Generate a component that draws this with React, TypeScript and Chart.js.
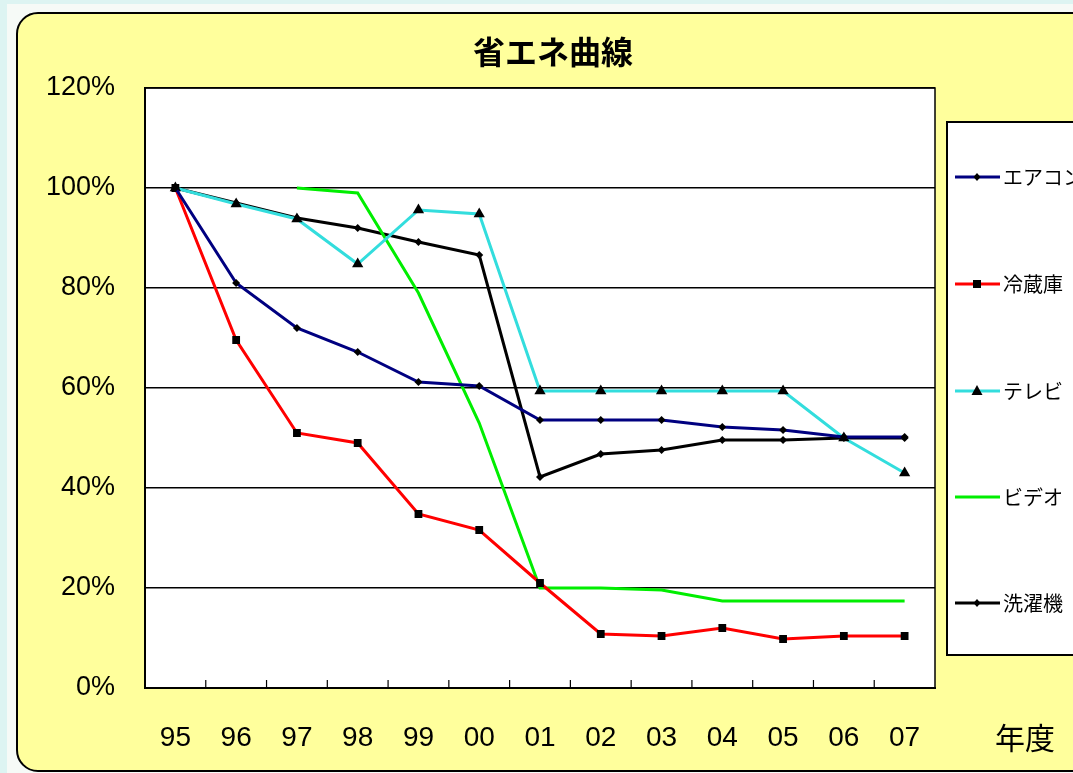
import React, { useEffect, useRef } from "react";
import { Chart, registerables } from "chart.js";

Chart.register(...registerables);

const years = ["95", "96", "97", "98", "99", "00", "01", "02", "03", "04", "05", "06", "07"];
const aircon = [100, 81, 72, 67.2, 61.2, 60.4, 53.6, 53.6, 53.6, 52.2, 51.6, 50.2, 50.2];
const fridge = [100, 69.6, 51, 49, 34.8, 31.6, 21, 10.8, 10.4, 12, 9.8, 10.4, 10.4];
const tv = [100, 96.8, 93.8, 84.8, 95.6, 94.8, 59.4, 59.4, 59.4, 59.4, 59.4, 50, 43];
const video = [null, null, 100, 99, 79, 53, 20, 20, 19.6, 17.4, 17.4, 17.4, 17.4];
const washer = [100, 97, 94, 92, 89.2, 86.6, 42.2, 46.8, 47.6, 49.6, 49.6, 50, 50];
const seriesNames = ["エアコン", "冷蔵庫", "テレビ", "ビデオ", "洗濯機"];
const seriesColors = ["#000080", "#FF0000", "#33DDDD", "#00EE00", "#000000"];
const markerStyles = ["rectRot", "rect", "triangle", "none", "rectRot"];
const chartTitle = "省エネ曲線";
const xAxisTitle = "年度";

const JP = '"Noto Sans CJK JP", sans-serif';
const NUM = '"Liberation Sans", Arial, sans-serif';

function drawMarker(ctx: CanvasRenderingContext2D, style: string, x: number, y: number) {
  ctx.save();
  ctx.fillStyle = "#000";
  ctx.beginPath();
  if (style === "rect") {
    ctx.rect(x - 4, y - 4, 8, 8);
  } else if (style === "triangle") {
    ctx.moveTo(x, y - 6);
    ctx.lineTo(x + 5.5, y + 4);
    ctx.lineTo(x - 5.5, y + 4);
    ctx.closePath();
  } else if (style === "rectRot") {
    ctx.moveTo(x, y - 4);
    ctx.lineTo(x + 3.5, y);
    ctx.lineTo(x, y + 4);
    ctx.lineTo(x - 3.5, y);
    ctx.closePath();
  } else {
    ctx.restore();
    return;
  }
  ctx.fill();
  ctx.restore();
}

const decorPlugin = {
  id: "decor",
  beforeDraw(chart: any) {
    const ctx: CanvasRenderingContext2D = chart.ctx;
    const a = chart.chartArea;
    ctx.save();
    ctx.fillStyle = "#FFFFFF";
    ctx.fillRect(a.left, a.top, a.right - a.left, a.bottom - a.top);
    ctx.restore();
  },
  afterDraw(chart: any) {
    const ctx: CanvasRenderingContext2D = chart.ctx;
    const a = chart.chartArea;
    ctx.save();
    // plot border (top/right)
    ctx.strokeStyle = "#000";
    ctx.lineWidth = 1.5;
    ctx.strokeRect(a.left, a.top, a.right - a.left, a.bottom - a.top);
    // inward x tick marks at category boundaries
    const xs = chart.scales.x;
    const step = (a.right - a.left) / years.length;
    ctx.lineWidth = 1.2;
    for (let i = 1; i < years.length; i++) {
      const px = xs.getPixelForValue(i) - step / 2;
      ctx.beginPath();
      ctx.moveTo(px, a.bottom);
      ctx.lineTo(px, a.bottom - 8);
      ctx.stroke();
    }
    // title
    ctx.fillStyle = "#000";
    ctx.font = `bold 32px ${JP}`;
    ctx.textAlign = "center";
    ctx.textBaseline = "middle";
    ctx.fillText(chartTitle, 553, 52);
    // x axis title
    ctx.font = `30px ${JP}`;
    ctx.fillText(xAxisTitle, 1025, 738);
    // legend box
    ctx.fillStyle = "#fff";
    ctx.fillRect(947, 122, 160, 533);
    ctx.strokeStyle = "#000";
    ctx.lineWidth = 2;
    ctx.strokeRect(947, 122, 160, 533);
    const ys = [177, 284, 391, 497, 603];
    ctx.font = `20px ${JP}`;
    ctx.textAlign = "left";
    ctx.textBaseline = "middle";
    for (let i = 0; i < seriesNames.length; i++) {
      const y = ys[i];
      ctx.strokeStyle = seriesColors[i];
      ctx.lineWidth = 3;
      ctx.beginPath();
      ctx.moveTo(955, y);
      ctx.lineTo(1000, y);
      ctx.stroke();
      drawMarker(ctx, markerStyles[i], 977, y);
      ctx.fillStyle = "#000";
      ctx.fillText(seriesNames[i], 1003, y);
    }
    ctx.restore();
  },
};

export default function App() {
  const ref = useRef<HTMLCanvasElement | null>(null);
  useEffect(() => {
    if (!ref.current) return;
    const data = [aircon, fridge, tv, video, washer];
    const chart = new Chart(ref.current, {
      type: "line",
      data: {
        labels: years,
        datasets: data.map((d, i) => ({
          label: seriesNames[i],
          data: d,
          borderColor: seriesColors[i],
          backgroundColor: "#000",
          borderWidth: 3,
          pointStyle: markerStyles[i] === "none" ? false : (markerStyles[i] as any),
          pointRadius: markerStyles[i] === "none" ? 0 : markerStyles[i] === "rect" ? 5.5 : markerStyles[i] === "triangle" ? 6.5 : 4,
          pointBackgroundColor: "#000",
          pointBorderColor: "#000",
          pointBorderWidth: 0,
          tension: 0,
          spanGaps: false,
        })),
      },
      options: {
        animation: false,
        responsive: false,
        maintainAspectRatio: false,
        layout: { padding: { left: 0, top: 88, right: 138, bottom: 0 } },
        plugins: {
          legend: { display: false },
          title: { display: false },
          tooltip: { enabled: false },
        },
        scales: {
          x: {
            offset: true,
            grid: { display: false, drawTicks: false },
            border: { display: true, color: "#000", width: 2 },
            ticks: {
              color: "#000",
              font: { family: NUM, size: 28 },
              padding: 33,
              maxRotation: 0,
              autoSkip: false,
            },
            afterFit: (s: any) => {
              s.height = 85;
            },
          },
          y: {
            min: 0,
            max: 120,
            grid: { color: "#000", lineWidth: 1.5, drawTicks: false },
            border: { display: true, color: "#000", width: 2 },
            ticks: {
              stepSize: 20,
              color: "#000",
              font: { family: NUM, size: 27 },
              padding: 30,
              callback: (v: any) => `${v}%`,
            },
            afterFit: (s: any) => {
              s.width = 145;
            },
          },
        },
      },
      plugins: [decorPlugin],
    });
    return () => chart.destroy();
  }, []);

  return (
    <div style={{ position: "fixed", left: 0, top: 0, width: 1073, height: 773, background: "#DDF4F2", overflow: "hidden" }}>
      <div style={{ position: "absolute", left: 7, top: 4, width: 1100, height: 800, background: "#F6FAF7" }} />
      <div
        style={{
          position: "absolute",
          left: 16,
          top: 12,
          width: 1100,
          height: 756,
          background: "#FFFF9C",
          border: "2px solid #000",
          borderRadius: 22,
        }}
      />
      <canvas ref={ref} width={1073} height={773} style={{ position: "absolute", left: 0, top: 0, width: 1073, height: 773 }} />
    </div>
  );
}
